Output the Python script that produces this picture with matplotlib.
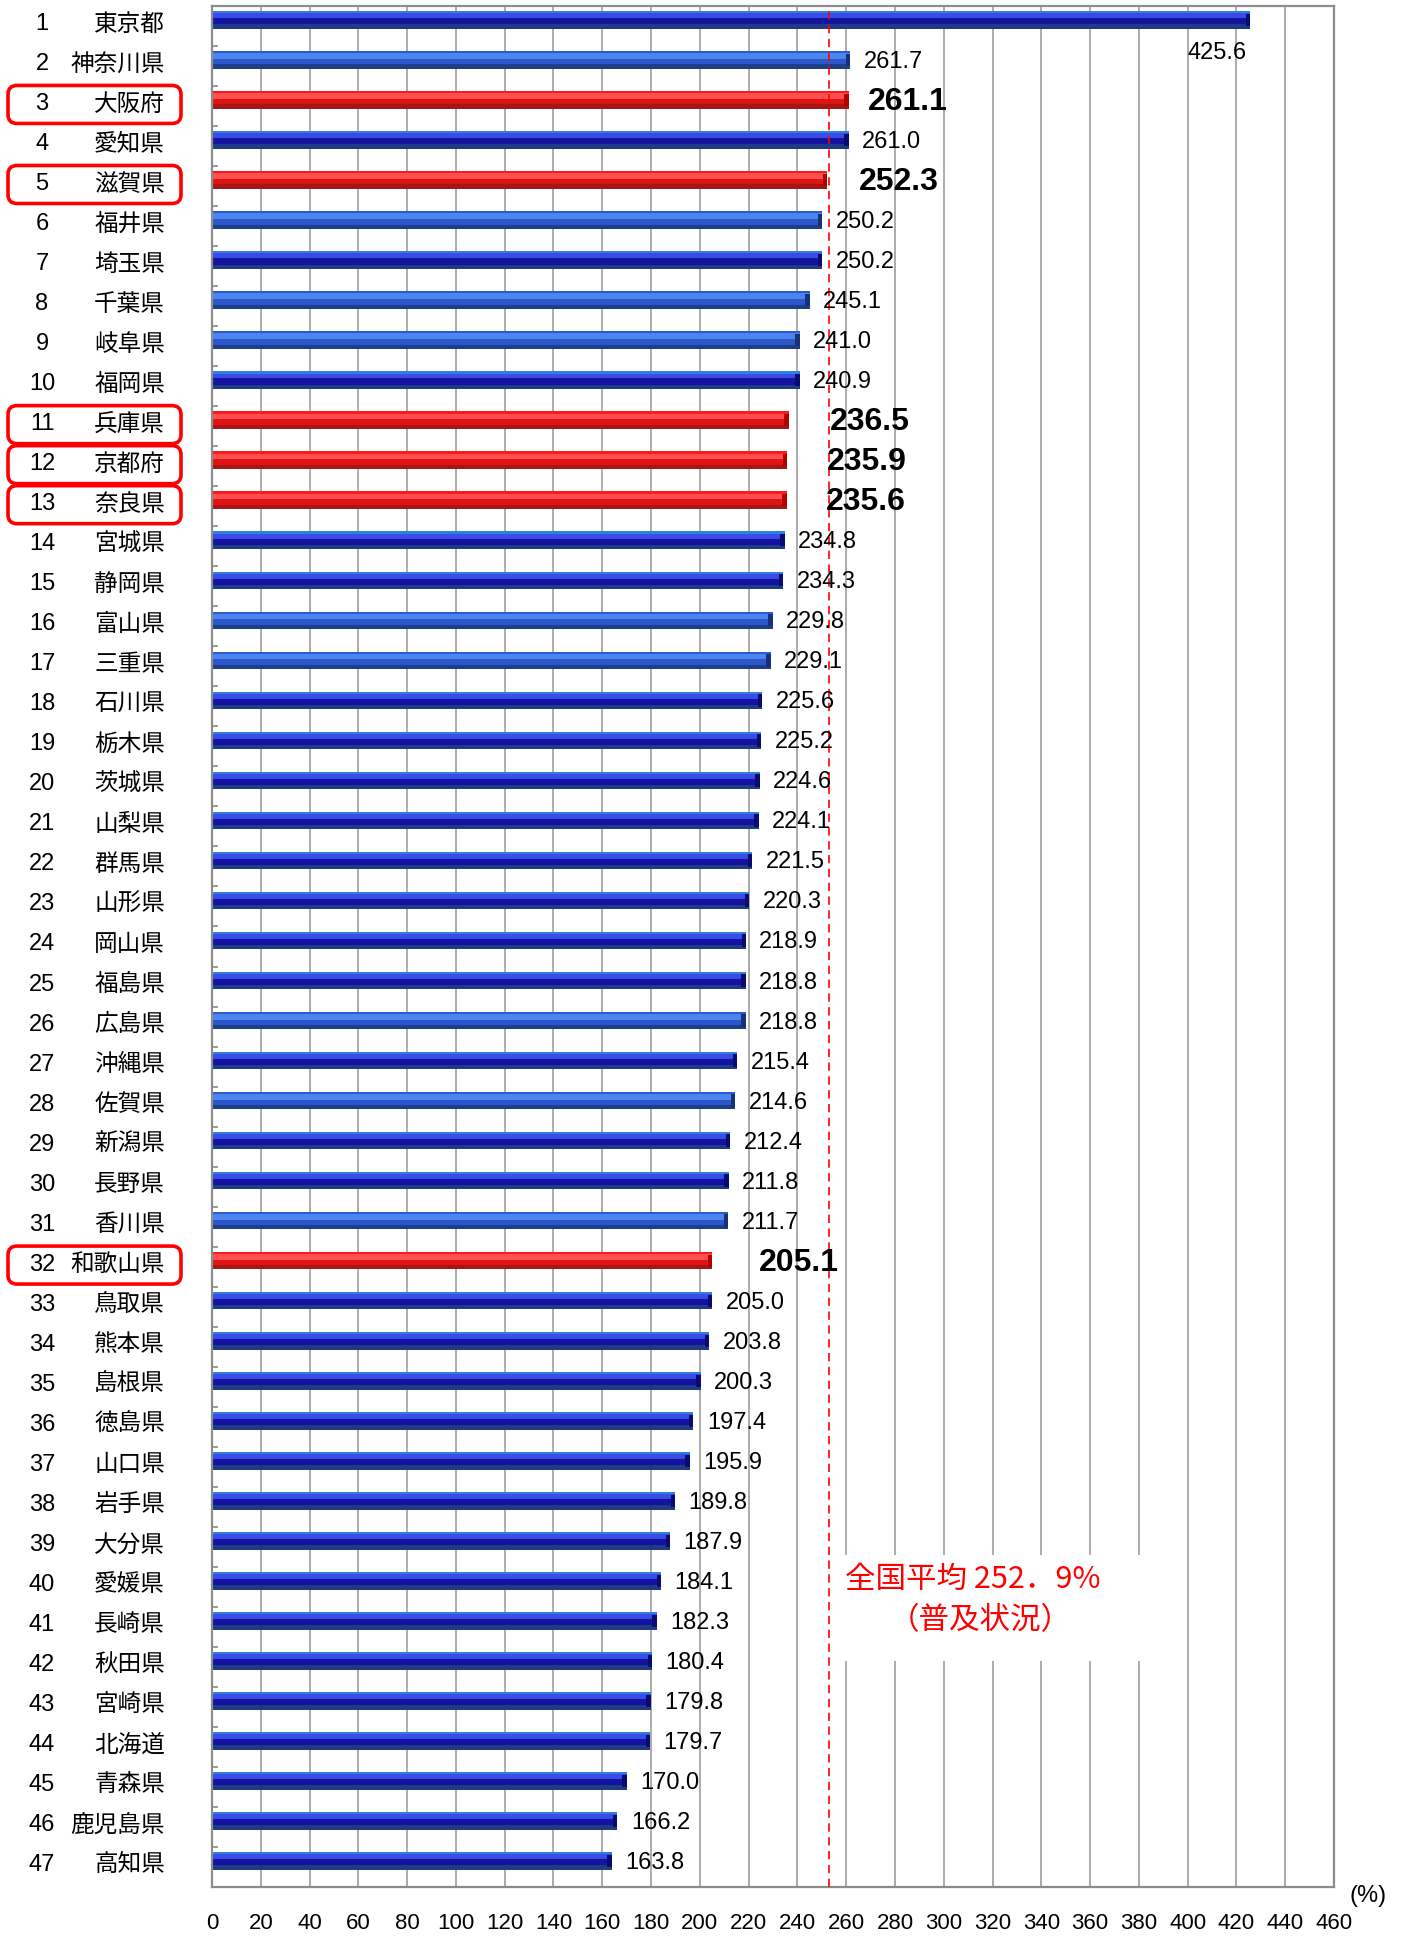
import matplotlib
matplotlib.use("Agg")
import matplotlib.pyplot as plt
from matplotlib.patches import FancyBboxPatch, Rectangle
from matplotlib.transforms import IdentityTransform, blended_transform_factory

# ---- data ----
ranks = list(range(1, 48))
prefs = ["東京都", "神奈川県", "大阪府", "愛知県", "滋賀県", "福井県", "埼玉県", "千葉県",
         "岐阜県", "福岡県", "兵庫県", "京都府", "奈良県", "宮城県", "静岡県", "富山県",
         "三重県", "石川県", "栃木県", "茨城県", "山梨県", "群馬県", "山形県", "岡山県",
         "福島県", "広島県", "沖縄県", "佐賀県", "新潟県", "長野県", "香川県", "和歌山県",
         "鳥取県", "熊本県", "島根県", "徳島県", "山口県", "岩手県", "大分県", "愛媛県",
         "長崎県", "秋田県", "宮崎県", "北海道", "青森県", "鹿児島県", "高知県"]
values = [425.6, 261.7, 261.1, 261.0, 252.3, 250.2, 250.2, 245.1, 241.0, 240.9,
          236.5, 235.9, 235.6, 234.8, 234.3, 229.8, 229.1, 225.6, 225.2, 224.6,
          224.1, 221.5, 220.3, 218.9, 218.8, 218.8, 215.4, 214.6, 212.4, 211.8,
          211.7, 205.1, 205.0, 203.8, 200.3, 197.4, 195.9, 189.8, 187.9, 184.1,
          182.3, 180.4, 179.8, 179.7, 170.0, 166.2, 163.8]
highlight = [3, 5, 11, 12, 13, 32]          # 関西の府県
light_rows = [2, 6, 8, 9, 16, 17, 26, 28, 31]
national_avg = 252.9
xticks = list(range(0, 461, 20))

# ---- styles ----
W, H = 1401, 1937
num_font = ["Liberation Sans Narrow", "Liberation Sans", "DejaVu Sans"]
jp_font = ["Noto Sans CJK JP", "DejaVu Sans"]

bands = {
    "red":   [(0.00, 0.12, "#ff1a1a"), (0.12, 0.45, "#ff4f4f"), (0.45, 0.75, "#e11414"), (0.75, 1.0, "#a51616")],
    "light": [(0.00, 0.12, "#2a5bd0"), (0.12, 0.45, "#4d85f0"), (0.45, 0.75, "#2b57c9"), (0.75, 1.0, "#1d3e89")],
    "dark":  [(0.00, 0.12, "#2f7fe0"), (0.12, 0.40, "#3a4ce6"), (0.40, 0.75, "#13139f"), (0.75, 1.0, "#1f3b85")],
}
cap_color = {"red": "#b00000", "light": "#16307a", "dark": "#0a0a70"}

fig = plt.figure(figsize=(W / 100, H / 100), dpi=100)
ax = fig.add_axes([212 / W, 50 / H, 1122 / W, 1881 / H])
ax.set_xlim(0, 460)
ax.set_ylim(46.65, -0.35)

bh = 0.44
for i, (r, v) in enumerate(zip(ranks, values)):
    style = "red" if r in highlight else ("light" if r in light_rows else "dark")
    top = i - bh / 2
    for f0, f1, c in bands[style]:
        ax.barh(top + bh * f0, v, height=bh * (f1 - f0), align="edge",
                color=c, edgecolor="none", zorder=2)
    ax.barh(top + bh * 0.15, 1.8, left=v - 1.8, height=bh * 0.7, align="edge",
            color=cap_color[style], edgecolor="none", zorder=2)

# value labels
bold_pad = {3: 8, 5: 13, 11: 17, 12: 16, 13: 16, 32: 19}
for i, (r, v) in enumerate(zip(ranks, values)):
    if r == 1:
        ax.text(400, i + 0.83, f"{v:.1f}", ha="left", va="center",
                fontsize=17, family=num_font, zorder=4)
    elif r in highlight:
        ax.text(v + bold_pad[r], i + 0.05, f"{v:.1f}", ha="left", va="center",
                fontsize=23, fontweight="bold", family=num_font, zorder=4)
    else:
        ax.text(v + 5.5, i + 0.05, f"{v:.1f}", ha="left", va="center",
                fontsize=17, family=num_font, zorder=4)

# grid & axes
ax.set_xticks(xticks)
ax.set_xticklabels([str(t) for t in xticks], family=num_font, fontsize=16)
ax.tick_params(axis="x", length=0, pad=19)
ax.set_yticks([])
ax.set_yticks([k + 0.65 for k in range(-1, 47)], minor=True)
ax.tick_params(axis="y", which="minor", direction="in", length=4, color="#8c8c8c", width=1.2)
ax.grid(axis="x", color="#a6a6a6", lw=1.3)
ax.set_axisbelow(True)
for s in ax.spines.values():
    s.set_color("#8c8c8c")
    s.set_linewidth(1.6)

ax.axvline(national_avg, color="#ff0000", lw=1.2, ls=(0, (5, 3.3)), zorder=3)

# annotation
ax.add_patch(Rectangle((256, 38.35), 132, 2.65, facecolor="white", edgecolor="none", zorder=1))
ax.text(312, 38.96, "全国平均 252．9%", color="#ff0000", fontsize=22,
        family=jp_font, ha="center", va="center", zorder=4)
ax.text(315, 40.0, "（普及状況）", color="#ff0000", fontsize=22,
        family=jp_font, ha="center", va="center", zorder=4)

fig.text(1368 / W, 1 - 1896 / H, "(%)", family=num_font, fontsize=17, ha="center", va="center")

# row labels
lab_tr = blended_transform_factory(fig.transFigure, ax.transData)
for i, (r, name) in enumerate(zip(ranks, prefs)):
    ax.text(42 / W, i + 0.1, str(r), transform=lab_tr, ha="center", va="center",
            fontsize=17, family=num_font, clip_on=False)
    ax.text(165 / W, i + 0.1, name, transform=lab_tr, ha="right", va="center",
            fontsize=17, family=jp_font, clip_on=False)

# red rounded boxes around highlighted labels
for r in highlight:
    i = r - 1
    yc = ax.transData.transform((0, i + 0.11))[1]
    bx_h = 38
    box = FancyBboxPatch((8, yc - bx_h / 2), 173, bx_h,
                         boxstyle="round,pad=0,rounding_size=9",
                         transform=IdentityTransform(), facecolor="none",
                         edgecolor="#ff0000", lw=2.6)
    fig.add_artist(box)

fig.savefig("out.png", dpi=100)
